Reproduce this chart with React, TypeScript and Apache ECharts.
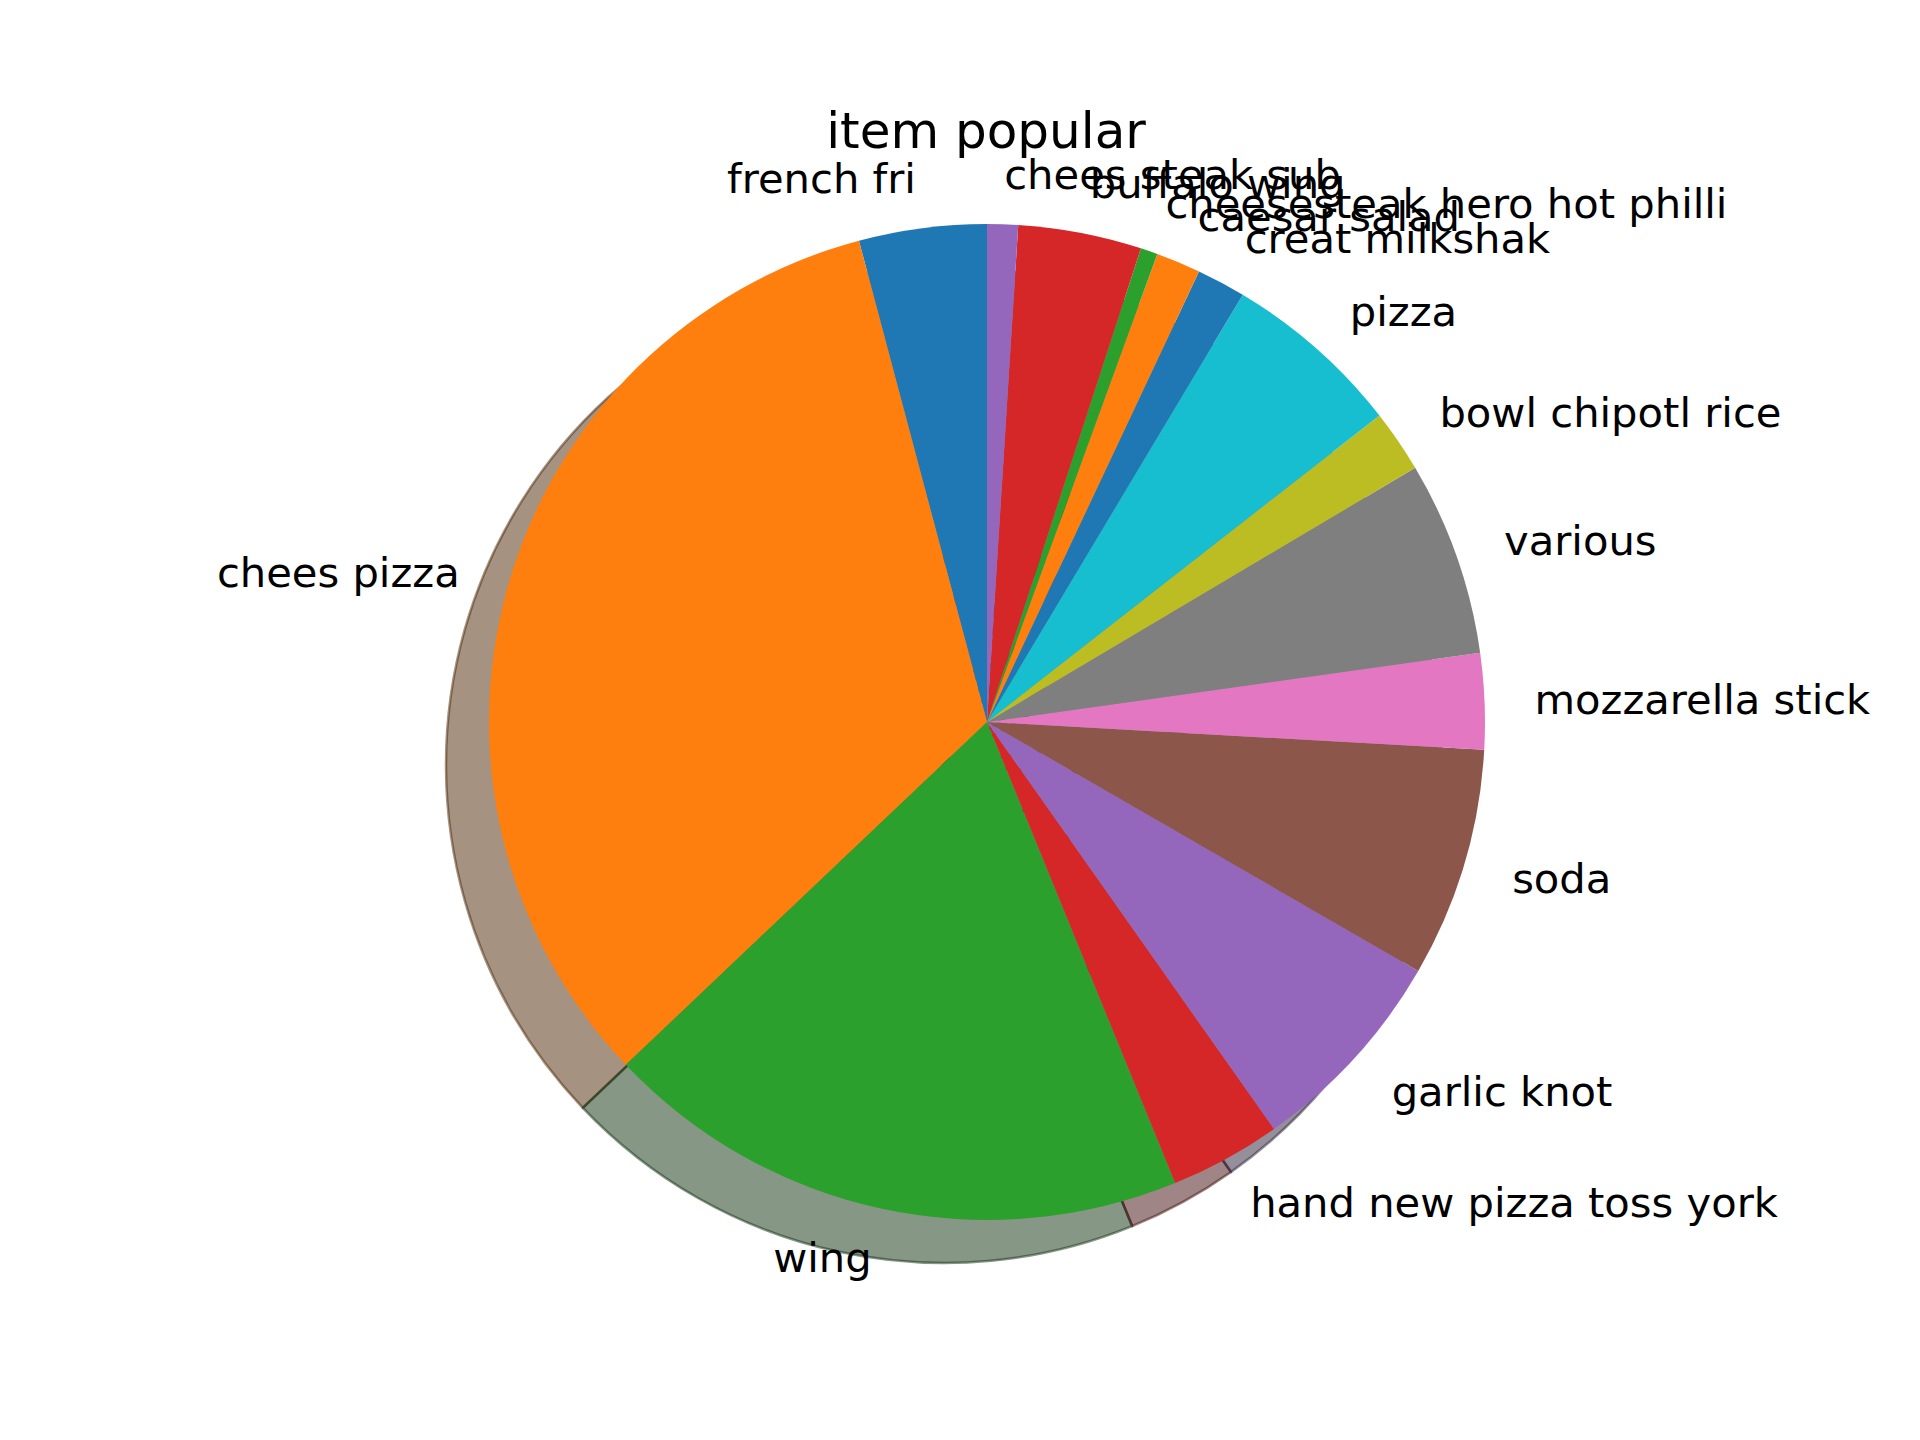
import React, { useEffect, useRef } from 'react';
import * as echarts from 'echarts';

const chartTitle = 'item popular';
const categories = [
  'french fri',
  'chees pizza',
  'wing',
  'hand new pizza toss york',
  'garlic knot',
  'soda',
  'mozzarella stick',
  'various',
  'bowl chipotl rice',
  'pizza',
  'creat milkshak',
  'caesar salad',
  'cheesesteak hero hot philli',
  'buffalo wing',
  'chees steak sub',
];
const counts = [149, 1186, 687, 130, 248, 268, 112, 227, 73, 211, 57, 52, 20, 144, 36];
const palette = [
  '#1f77b4', '#ff7f0e', '#2ca02c', '#d62728', '#9467bd',
  '#8c564b', '#e377c2', '#7f7f7f', '#bcbd22', '#17becf',
];

function shade(hex: string): string {
  const r = parseInt(hex.slice(1, 3), 16) * 0.3;
  const g = parseInt(hex.slice(3, 5), 16) * 0.3;
  const b = parseInt(hex.slice(5, 7), 16) * 0.3;
  return `rgba(${r.toFixed(1)},${g.toFixed(1)},${b.toFixed(1)},0.5)`;
}

const FONT = '"DejaVu Sans", sans-serif';

export default function App() {
  const ref = useRef<HTMLDivElement>(null);
  useEffect(() => {
    if (!ref.current) return;
    const chart = echarts.init(ref.current, undefined, { renderer: 'svg' });
    const R = 498;
    const option: any = {
      animation: false,
      backgroundColor: '#ffffff',
      graphic: [
        {
          type: 'text',
          x: 986,
          y: 131,
          style: {
            text: chartTitle,
            fontSize: 50,
            fontFamily: FONT,
            fill: '#000',
            textAlign: 'center',
            textVerticalAlign: 'middle',
          },
          z: 10,
        },
      ],
      series: [
        {
          type: 'pie',
          name: 'shadow',
          center: [944, 765],
          radius: R,
          startAngle: 90,
          clockwise: false,
          silent: true,
          avoidLabelOverlap: false,
          label: { show: false },
          labelLine: { show: false },
          emphasis: { disabled: true },
          z: 1,
          data: categories.map((n, i) => ({
            name: n,
            value: counts[i],
            itemStyle: {
              color: shade(palette[i % 10]),
              borderColor: shade(palette[i % 10]),
              borderWidth: 2.5,
            },
          })),
        },
        {
          type: 'pie',
          name: 'item popular',
          center: [987, 722],
          radius: R,
          startAngle: 90,
          clockwise: false,
          avoidLabelOverlap: false,
          labelLayout: { hideOverlap: false },
          itemStyle: { borderWidth: 0 },
          label: {
            show: true,
            position: 'outside',
            formatter: '{b}',
            color: '#000',
            fontSize: 41.67,
            fontFamily: FONT,
            distanceToLabelLine: 0,
            overflow: 'none',
            padding: [0, 0, 6, 0],
          },
          labelLine: { show: false, length: 50, length2: 0 },
          emphasis: { disabled: true },
          z: 2,
          data: categories.map((n, i) => ({
            name: n,
            value: counts[i],
            itemStyle: { color: palette[i % 10] },
          })),
        },
      ],
    };
    chart.setOption(option);
    return () => chart.dispose();
  }, []);
  return (
    <div
      ref={ref}
      style={{ position: 'absolute', left: 0, top: 0, width: 1920, height: 1440, background: '#fff' }}
    />
  );
}
